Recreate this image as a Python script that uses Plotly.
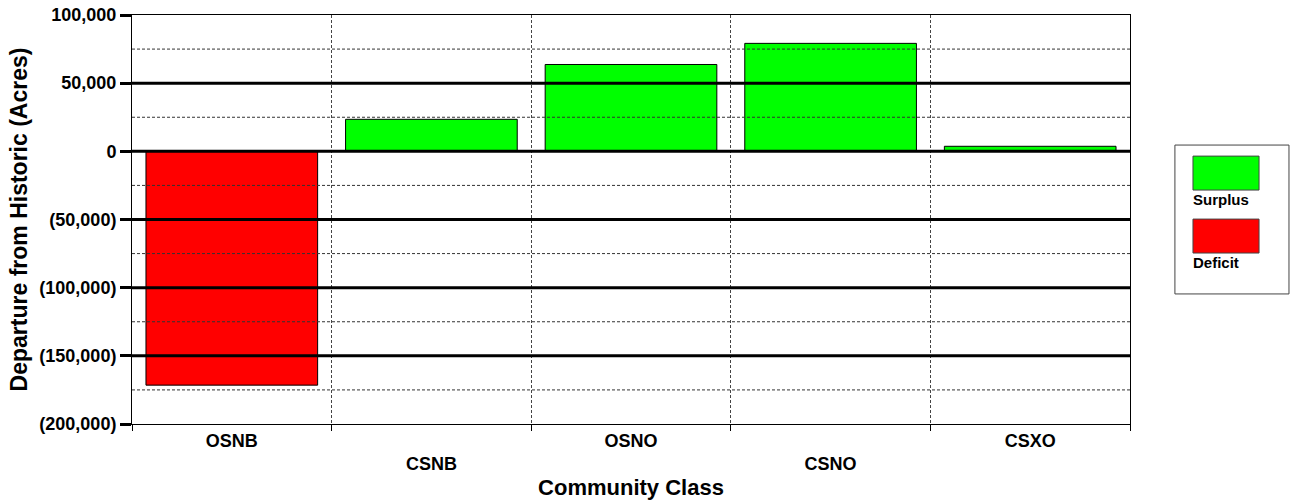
import plotly.graph_objects as go

categories = ["OSNB", "CSNB", "OSNO", "CSNO", "CSXO"]
departure = [-171500, 23500, 63700, 79200, 3700]
y_tick_vals = [-200000, -150000, -100000, -50000, 0, 50000, 100000]
y_tick_text = ["(200,000)", "(150,000)", "(100,000)", "(50,000)", "0", "50,000", "100,000"]
y_minor_vals = [-175000, -125000, -75000, -25000, 25000, 75000]
x_tick_text = ["OSNB", "<br>CSNB", "OSNO", "<br>CSNO", "CSXO"]

FONT = "Liberation Sans, Arial, sans-serif"

surplus = [v if v >= 0 else None for v in departure]
deficit = [v if v < 0 else None for v in departure]

fig = go.Figure()
fig.add_trace(go.Bar(x=categories, y=surplus, name="Surplus", width=0.86,
                     marker=dict(color="#00ff00", line=dict(color="black", width=1))))
fig.add_trace(go.Bar(x=categories, y=deficit, name="Deficit", width=0.86,
                     marker=dict(color="#ff0000", line=dict(color="black", width=1))))

# gridlines drawn above bars (as in reference)
for v in y_tick_vals[1:-1]:
    fig.add_hline(y=v, line=dict(color="black", width=3), layer="above")
for v in y_minor_vals:
    fig.add_hline(y=v, line=dict(color="#333333", width=1, dash="3px,2px"), layer="above")

fig.update_layout(
    width=1294, height=504,
    margin=dict(l=132, r=164, t=15, b=80),
    paper_bgcolor="white", plot_bgcolor="white",
    barmode="overlay", showlegend=False,
    font=dict(family=FONT, size=18, color="black", weight="bold"),
    xaxis=dict(
        type="category", tickson="boundaries", range=[-0.5, 4.5],
        tickvals=categories, ticktext=x_tick_text, automargin=False,
        showgrid=True, gridcolor="#444444", griddash="3px,2px", gridwidth=1,
        ticks="outside", ticklen=6, tickwidth=1, tickcolor="black",
        showline=True, linecolor="black", linewidth=1, mirror=True,
        tickfont=dict(size=18, family=FONT, weight="bold"),
        title=dict(text="Community Class", font=dict(size=22, family=FONT, weight="bold"), standoff=6),
    ),
    yaxis=dict(
        range=[-200000, 100000], tickvals=y_tick_vals, ticktext=y_tick_text,
        showgrid=False, zeroline=False, automargin=False,
        ticks="outside", ticklen=11, tickwidth=3, tickcolor="black",
        showline=True, linecolor="black", linewidth=1, mirror=True,
        tickfont=dict(size=18, family=FONT, weight="bold"),
        title=dict(text="Departure from Historic (Acres)", font=dict(size=23, family=FONT, weight="bold"), standoff=5),
    ),
)

# custom legend box (colour swatches above labels)
fig.add_shape(type="rect", xref="paper", yref="paper", x0=1.045, x1=1.1593, y0=0.318, y1=0.682,
              line=dict(color="#444444", width=1), fillcolor="white")
fig.add_shape(type="rect", xref="paper", yref="paper", x0=1.0631, x1=1.1293, y0=0.572, y1=0.655,
              line=dict(color="#444444", width=1), fillcolor="#00ff00")
fig.add_shape(type="rect", xref="paper", yref="paper", x0=1.0631, x1=1.1293, y0=0.418, y1=0.501,
              line=dict(color="#444444", width=1), fillcolor="#ff0000")
fig.add_annotation(text="Surplus", xref="paper", yref="paper", x=1.0611, y=0.548, xanchor="left",
                   yanchor="middle", showarrow=False, font=dict(size=15, family=FONT, weight="bold"))
fig.add_annotation(text="Deficit", xref="paper", yref="paper", x=1.0611, y=0.396, xanchor="left",
                   yanchor="middle", showarrow=False, font=dict(size=15, family=FONT, weight="bold"))

fig.write_html("out.html", config={"displayModeBar": False})

# remove the browser's default page margin so the figure sits at (0, 0)
with open("out.html", "r", encoding="utf-8") as f:
    html = f.read()
html = html.replace("<body>", '<body style="margin:0;padding:0;">', 1)
with open("out.html", "w", encoding="utf-8") as f:
    f.write(html)
